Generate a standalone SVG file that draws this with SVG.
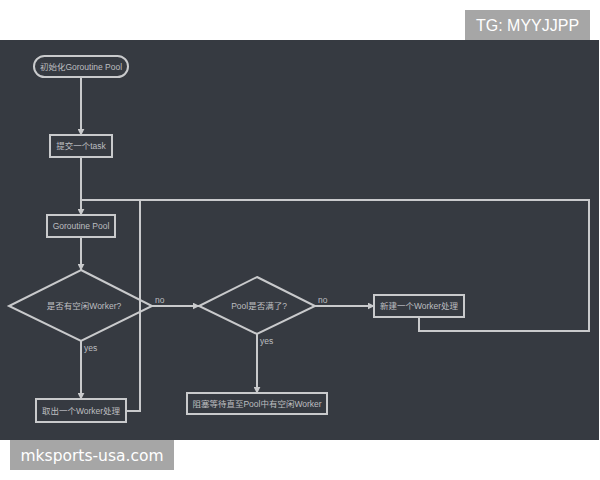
<svg xmlns="http://www.w3.org/2000/svg" width="600" height="480" viewBox="0 0 600 480">
<style>
.n{fill:none;stroke:#c9cacc;stroke-width:2}
.t{font-family:"Liberation Sans","Noto Sans CJK SC",sans-serif;font-size:8.5px;fill:#bdbec0;text-anchor:middle;dominant-baseline:central}
.l{font-family:"Liberation Sans",sans-serif;font-size:8.5px;fill:#bdbec0}
.c{fill:none;stroke:#c9cacc;stroke-width:2}
</style>
<defs>
<marker id="a" viewBox="0 0 10 10" refX="9" refY="5" markerWidth="3.5" markerHeight="3.5" orient="auto"><path d="M0,0L10,5L0,10z" fill="#c9cacc"/></marker>
</defs>
<rect width="600" height="480" fill="#ffffff"/>
<rect x="0" y="40" width="599" height="400" fill="#363a41"/>
<g id="connectors">
<path class="c" d="M81,77V135" marker-end="url(#a)"/>
<path class="c" d="M81,157V215" marker-end="url(#a)"/>
<path class="c" d="M81,237V270" marker-end="url(#a)"/>
<path class="c" d="M81,341V399" marker-end="url(#a)"/>
<path class="c" d="M152,306H199" marker-end="url(#a)"/>
<path class="c" d="M315,306H374" marker-end="url(#a)"/>
<path class="c" d="M257,334V393" marker-end="url(#a)"/>
<path class="c" d="M126,411H140V200"/>
<path class="c" d="M419,317V331H589V200H81"/>
<text class="l" x="155" y="303">no</text>
<text class="l" x="318" y="303">no</text>
<text class="l" x="84" y="351">yes</text>
<text class="l" x="260" y="344">yes</text>
</g>
<g id="start">
<rect class="n" x="34" y="56" width="94" height="21" rx="10.5"/>
<text class="t" x="81" y="66.5">初始化Goroutine Pool</text>
</g>
<g id="submit">
<rect class="n" x="50" y="135" width="62" height="22"/>
<text class="t" x="81" y="146">提交一个task</text>
</g>
<g id="pool">
<rect class="n" x="47" y="215" width="68" height="22"/>
<text class="t" x="81" y="226">Goroutine Pool</text>
</g>
<g id="idle">
<polygon class="n" points="81,270 152,306 81,341 9,306"/>
<text class="t" x="84" y="306">是否有空闲Worker?</text>
</g>
<g id="full">
<polygon class="n" points="257,277 315,306 257,334 199,306"/>
<text class="t" x="259" y="306">Pool是否满了?</text>
</g>
<g id="new">
<rect class="n" x="374" y="295" width="90" height="22"/>
<text class="t" x="419" y="306">新建一个Worker处理</text>
</g>
<g id="take">
<rect class="n" x="36" y="399" width="90" height="23"/>
<text class="t" x="81" y="410.5">取出一个Worker处理</text>
</g>
<g id="block">
<rect class="n" x="187" y="393" width="140" height="21"/>
<text class="t" x="257" y="403.5">阻塞等待直至Pool中有空闲Worker</text>
</g>
<g id="watermarks">
<rect x="465" y="10" width="125" height="30" fill="#a6a6a6"/>
<text x="527.5" y="31" font-family="'Liberation Sans',sans-serif" font-size="16" fill="#ffffff" text-anchor="middle">TG: MYYJJPP</text>
<rect x="10" y="440" width="164" height="30" fill="#a6a6a6"/>
<text x="92" y="461" font-family="'DejaVu Sans',sans-serif" font-size="15.5" fill="#ffffff" text-anchor="middle">mksports-usa.com</text>
</g>
</svg>
